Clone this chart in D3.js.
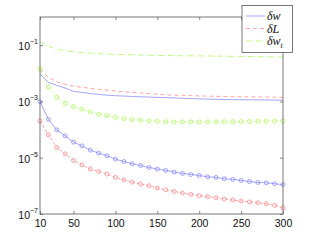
<!DOCTYPE html>
<html>
<head>
<meta charset="utf-8">
<script src="https://cdn.jsdelivr.net/npm/d3@7"></script>
<style>
  body { margin: 0; background: #fff; }
  svg { display: block; }
</style>
</head>
<body>
<svg id="chart" width="312" height="242"></svg>
<script>
// x positions shared by every series
const xs = d3.range(10, 301, 10)

// plain curves (no markers)
const dw = [9.4e-3, 4.70e-3, 3.74e-3, 3.0e-3, 2.29e-3, 2.08e-3, 1.90e-3, 1.78e-3, 1.67e-3, 1.60e-3,
  1.55e-3, 1.50e-3, 1.46e-3, 1.43e-3, 1.39e-3, 1.36e-3, 1.33e-3, 1.29e-3, 1.26e-3, 1.23e-3,
  1.21e-3, 1.19e-3, 1.17e-3, 1.16e-3, 1.15e-3, 1.145e-3, 1.135e-3, 1.127e-3, 1.117e-3, 1.10e-3]
const dL = [1.41e-2, 7.06e-3, 4.97e-3, 4.06e-3, 3.50e-3, 3.18e-3, 2.93e-3, 2.70e-3, 2.51e-3, 2.35e-3,
  2.22e-3, 2.10e-3, 2.00e-3, 1.90e-3, 1.81e-3, 1.74e-3, 1.68e-3, 1.64e-3, 1.60e-3, 1.57e-3,
  1.55e-3, 1.52e-3, 1.50e-3, 1.47e-3, 1.46e-3, 1.45e-3, 1.44e-3, 1.43e-3, 1.42e-3, 1.40e-3]
const dwt = [0.131, 0.092, 0.072, 0.064, 0.058, 0.054, 0.052, 0.050, 0.048, 0.047,
  0.046, 0.0454, 0.0446, 0.0438, 0.0433, 0.0428, 0.0424, 0.042, 0.0418, 0.0415,
  0.0412, 0.0408, 0.0404, 0.0401, 0.0398, 0.0394, 0.039, 0.0387, 0.038, 0.0376]

// curves drawn with circle markers
const dwMark = [9.8e-4, 2.30e-4, 9.75e-5, 5.97e-5, 3.57e-5, 2.64e-5, 1.86e-5, 1.46e-5, 1.17e-5, 8.92e-6,
  7.33e-6, 6.08e-6, 5.29e-6, 4.50e-6, 3.95e-6, 3.52e-6, 3.09e-6, 2.76e-6, 2.54e-6, 2.34e-6,
  2.10e-6, 1.99e-6, 1.79e-6, 1.69e-6, 1.56e-6, 1.43e-6, 1.32e-6, 1.29e-6, 1.19e-6, 1.10e-6]
const dLMark = [2.03e-4, 6.48e-5, 2.30e-5, 1.37e-5, 7.96e-6, 5.60e-6, 3.95e-6, 3.24e-6, 2.62e-6, 1.99e-6,
  1.65e-6, 1.36e-6, 1.16e-6, 1.01e-6, 8.37e-7, 7.28e-7, 6.34e-7, 5.57e-7, 4.97e-7, 4.47e-7,
  4.12e-7, 3.79e-7, 3.41e-7, 3.14e-7, 2.90e-7, 2.67e-7, 2.52e-7, 2.32e-7, 2.02e-7, 1.64e-7]
const dwtMark = [1.41e-2, 3.25e-3, 1.40e-3, 8.61e-4, 6.52e-4, 5.27e-4, 4.23e-4, 3.51e-4, 3.13e-4, 2.75e-4,
  2.45e-4, 2.26e-4, 2.15e-4, 2.03e-4, 1.95e-4, 1.90e-4, 1.87e-4, 1.87e-4, 1.87e-4, 1.87e-4,
  1.87e-4, 1.90e-4, 1.90e-4, 1.91e-4, 1.93e-4, 1.95e-4, 1.96e-4, 1.98e-4, 1.99e-4, 2.01e-4]

const xTicks = [10, 50, 100, 150, 200, 250, 300]
const yTickExps = [-1, -3, -5, -7]
const legendNames = [["δw", ""], ["δL", ""], ["δw", "t"]]

const blue = "#8585ff", red = "#ff8585", green = "#a6f550"

const margin = { top: 17, right: 29, bottom: 28, left: 40 }
const width = 312 - margin.left - margin.right
const height = 242 - margin.top - margin.bottom

const svg = d3.select("#chart")
const g = svg.append("g").attr("transform", `translate(${margin.left},${margin.top})`)

const xScale = d3.scaleLinear().domain([10, 300]).range([0, width])
const yScale = d3.scaleLog().domain([1e-7, 1]).range([height, 0])

const toPts = vals => vals.map((v, i) => ({ x: xs[i], y: v }))
const line = d3.line().x(d => xScale(d.x)).y(d => yScale(d.y))

const series = [
  { vals: dwt, color: green, dash: "5,2,1,2", marks: false },
  { vals: dL, color: red, dash: "4,3", marks: false },
  { vals: dw, color: blue, dash: null, marks: false },
  { vals: dwtMark, color: green, dash: "1,2", marks: true },
  { vals: dwMark, color: blue, dash: null, marks: true },
  { vals: dLMark, color: red, dash: "3,2", marks: true }
]

series.forEach(s => {
  const pts = toPts(s.vals)
  g.append("path")
    .datum(pts)
    .attr("d", line)
    .attr("fill", "none")
    .attr("stroke", s.color)
    .attr("stroke-width", 0.75)
    .attr("stroke-dasharray", s.dash)
  if (s.marks) {
    g.append("g").selectAll("circle")
      .data(pts)
      .enter()
      .append("circle")
        .attr("cx", d => xScale(d.x))
        .attr("cy", d => yScale(d.y))
        .attr("r", 2)
        .attr("fill", "none")
        .attr("stroke", s.color)
        .attr("stroke-width", 0.75)
  }
})

// frame and ticks
const axisColor = "#555"
g.append("rect")
  .attr("width", width).attr("height", height)
  .attr("fill", "none").attr("stroke", axisColor).attr("stroke-width", 0.8)

const xAxis = g.append("g")
  .attr("transform", `translate(0,${height})`)
  .call(d3.axisBottom(xScale).tickValues(xTicks).tickSize(-3).tickPadding(6))
const xTop = g.append("g")
  .call(d3.axisTop(xScale).tickValues(xTicks).tickSize(-3).tickFormat(""))
const yAxis = g.append("g")
  .call(d3.axisLeft(yScale).tickValues(yTickExps.map(e => Math.pow(10, e))).tickSize(-3).tickFormat(""))
const yRight = g.append("g")
  .attr("transform", `translate(${width},0)`)
  .call(d3.axisRight(yScale).tickValues(yTickExps.map(e => Math.pow(10, e))).tickSize(-3).tickFormat(""))

;[xAxis, xTop, yAxis, yRight].forEach(a => {
  a.select(".domain").remove()
  a.selectAll("line").attr("stroke", axisColor).attr("stroke-width", 0.7)
})
xAxis.selectAll("text")
  .attr("fill", "#111")
  .attr("font-family", "Liberation Sans, Arial, sans-serif")
  .attr("font-size", "10.5px")

// y labels as 10^e
const yLab = g.append("g")
  .attr("font-family", "Liberation Sans, Arial, sans-serif")
  .attr("fill", "#111")
yTickExps.forEach(e => {
  const t = yLab.append("text")
    .attr("x", -2)
    .attr("y", yScale(Math.pow(10, e)) + 5)
    .attr("text-anchor", "end")
    .attr("font-size", "10.5px")
  t.append("tspan").text("10")
  t.append("tspan").attr("dy", -6).attr("font-size", "7px").text("−" + Math.abs(e))
})

// legend
const legX = 242, legY = 5.5
const leg = svg.append("g").attr("transform", `translate(${legX},${legY})`)
leg.append("rect")
  .attr("width", 50.5).attr("height", 47)
  .attr("fill", "#fff").attr("stroke", axisColor).attr("stroke-width", 0.8)
const legStyle = [[blue, null], [red, "4,3"], [green, "5,2,1,2"]]
legendNames.forEach((nm, i) => {
  const yy = 10.5 + i * 12.5
  leg.append("line")
    .attr("x1", 4).attr("x2", 23).attr("y1", yy).attr("y2", yy)
    .attr("stroke", legStyle[i][0]).attr("stroke-width", 0.75)
    .attr("stroke-dasharray", legStyle[i][1])
  const t = leg.append("text")
    .attr("x", 25).attr("y", yy + 4)
    .attr("font-family", "Liberation Serif, DejaVu Serif, serif")
    .attr("font-style", "italic")
    .attr("font-size", "12px")
    .attr("fill", "#111")
  t.append("tspan").text(nm[0])
  if (nm[1]) t.append("tspan").attr("dy", 2.5).attr("font-size", "8px").text(nm[1])
})
</script>
</body>
</html>
